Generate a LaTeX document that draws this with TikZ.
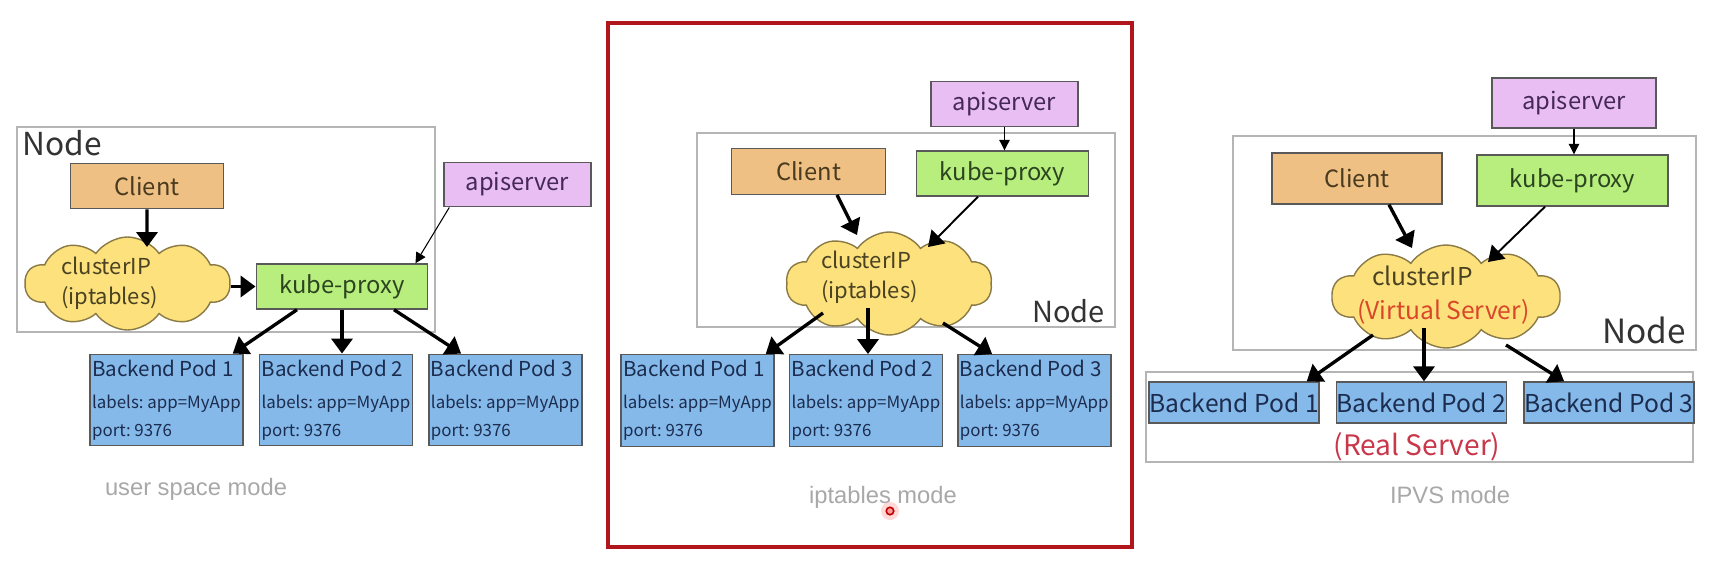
\documentclass[tikz,border=0pt]{standalone}
\usepackage{fontspec}
\setmainfont{Noto Sans CJK KR}
\newfontfamily\capfont{Liberation Sans}
\usetikzlibrary{positioning, shapes.symbols, arrows.meta, calc}

\definecolor{clientfill}{HTML}{EFC083}
\definecolor{clienttext}{HTML}{4A3A1F}
\definecolor{proxyfill}{HTML}{B7EE7D}
\definecolor{proxytext}{HTML}{2C4520}
\definecolor{apifill}{HTML}{E9BEF3}
\definecolor{apitext}{HTML}{45285A}
\definecolor{podfill}{HTML}{84B9EA}
\definecolor{podtext}{HTML}{1C2C4E}
\definecolor{cloudfill}{HTML}{FCE17C}
\definecolor{cloudline}{HTML}{8A7A45}
\definecolor{cloudtext}{HTML}{4A4222}
\definecolor{vsred}{HTML}{D9462A}
\definecolor{rsred}{HTML}{C9374A}
\definecolor{frameline}{HTML}{B5B5B5}
\definecolor{redframe}{HTML}{B0161C}
\definecolor{capgray}{HTML}{A8A8A8}

\newcommand{\podtitle}{\fontsize{11.7}{15}\selectfont}
\newcommand{\podsmall}{\fontsize{9.6}{13.5}\selectfont}
\newcommand{\podtext}[1]{\podtitle Backend Pod #1\\[2pt]\podsmall labels: app=MyApp\\\podsmall port: 9376}

\tikzset{
    box/.style={
        draw=black!65,
        rectangle,
        line width=0.8pt,
        inner sep=0pt,
        font=\fontsize{13.5}{16}\selectfont,
    },
    client/.style={box, fill=clientfill, text=clienttext, minimum width=30.7mm, minimum height=9.1mm},
    proxy/.style={box, fill=proxyfill, text=proxytext, minimum width=34.3mm, minimum height=9mm},
    api/.style={box, fill=apifill, text=apitext, minimum width=29.4mm, minimum height=8.9mm},
    pod/.style={box, fill=podfill, text=podtext, minimum width=30.6mm, minimum height=18.3mm,
        align=left, inner xsep=0.4mm},
    rpod/.style={box, fill=podfill, text=podtext, minimum width=34mm, minimum height=8.2mm,
        font=\fontsize{14}{17}\selectfont},
    cloudshape/.style={
        cloud, cloud puffs=10, cloud puff arc=110, cloud ignores aspect,
        draw=cloudline, fill=cloudfill, line width=0.8pt, inner sep=0pt,
    },
    cloudlabel/.style={text=cloudtext, align=left, inner sep=0pt, font=\fontsize{12.5}{17}\selectfont},
    nodelabel/.style={text=black!80, inner sep=0pt, font=\fontsize{18}{20}\selectfont},
    caption/.style={text=capgray, inner sep=0pt, font=\capfont\fontsize{13.5}{16}\selectfont},
    frame/.style={draw=frameline, line width=0.9pt},
    arr/.style={-{Triangle[length=8.5pt, width=12pt]}, line width=1.9pt},
    midarr/.style={-{Triangle[length=8.5pt, width=11pt]}, line width=1.1pt},
    thinarr/.style={-{Triangle[length=6pt, width=6pt]}, line width=0.6pt},
}

\begin{document}
\frenchspacing
\begin{tikzpicture}[x=0.2mm, y=-0.2mm, node distance=3mm]
   \fill[white] (0,0) rectangle (1719,582);
   \useasboundingbox (0,0) rectangle (1719,582);

   % user space mode
   \draw[frame] (17,127) rectangle (435,332);
   \node[nodelabel, anchor=base west] (nodeL) at (22,155) {Node};
   \node[client] (client1) at (147,186) {Client};
   \node[cloudshape, minimum width=41mm, minimum height=18.6mm] (cloud1) at (127.5,283.5) {};
   \node[cloudlabel, anchor=west] (ctext1) at (61,283) {clusterIP\\(iptables)};
   \node[proxy] (kp1) at (342,286.5) {kube-proxy};
   \node[api] (api1) at (517.5,184.5) {apiserver};
   \node[pod] (pod1L) at (166.5,400) {\podtext{1}};
   \node[pod, right=of pod1L] (pod2L) {\podtext{2}};
   \node[pod, right=of pod2L] (pod3L) {\podtext{3}};
   \node[caption] (capL) at (196,489) {user space mode};
   \draw[arr] (client1) -- ($(cloud1.center)+(19.5,-36.5)$);
   \draw[arr] (cloud1.east |- kp1.west) -- (kp1.west);
   \draw[thinarr] ($(api1.south west)+(6,0)$) -- ($(kp1.north east)+(-13,0)$);
   \draw[arr] ($(kp1.south)+(-45,0)$) -- ($(pod1L.north east)+(-11,0)$);
   \draw[arr] (kp1.south) -- (kp1.south |- pod2L.north);
   \draw[arr] ($(kp1.south)+(52,0)$) -- ($(pod3L.north west)+(33,0)$);

   % iptables mode
   \draw[redframe, line width=2.3pt] (608,23) rectangle (1132,547);
   \draw[frame] (697,133) rectangle (1115,327);
   \node[nodelabel, font=\fontsize{16.5}{19}\selectfont, anchor=base east] (nodeM) at (1105,322) {Node};
   \node[api] (api2) at (1004.5,104) {apiserver};
   \node[client] (client2) at (808.5,171.5) {Client};
   \node[proxy] (kp2) at (1002.5,173.5) {kube-proxy};
   \node[cloudshape, minimum width=41.2mm, minimum height=20.6mm] (cloud2) at (889,283.5) {};
   \node[cloudlabel, anchor=west] (ctext2) at (821,277.5) {clusterIP\\(iptables)};
   \node[pod] (pod1M) at (697.5,400.5) {\podtext{1}};
   \node[pod, right=2.8mm of pod1M] (pod2M) {\podtext{2}};
   \node[pod, right=2.8mm of pod2M] (pod3M) {\podtext{3}};
   \node[caption] (capM) at (883,497) {iptables mode};
   \draw[thinarr] (api2.south) -- (api2.south |- kp2.north);
   \draw[arr] ($(client2.south)+(28.5,0)$) -- ($(cloud2.center)+(-32,-48.5)$);
   \draw[midarr] ($(kp2.south)+(-24.5,0)$) -- ($(cloud2.center)+(39,-36.5)$);
   \draw[arr] ($(cloud2.center)+(-66,29.5)$) -- ($(pod1M.north east)+(-9,0)$);
   \draw[arr] ($(cloud2.center)+(-21,24.5)$) coordinate (m2) -- (m2 |- pod2M.north);
   \draw[arr] ($(cloud2.center)+(54,39.5)$) -- ($(pod3M.north west)+(35,0)$);
   \coordinate (pointer) at (890,511);
   \fill[red!25, opacity=0.6] (pointer) circle (1.8mm);
   \draw[red!75!black, line width=0.9pt, fill=red!40] (pointer) circle (0.75mm);

   % IPVS mode
   \draw[frame] (1233,136) rectangle (1696,350);
   \draw[frame] (1146,372) rectangle (1693,462);
   \node[nodelabel, font=\fontsize{19}{22}\selectfont, anchor=base east] (nodeR) at (1686,343) {Node};
   \node[api, minimum width=32.8mm, minimum height=10mm] (api3) at (1574,103) {apiserver};
   \node[client, minimum width=34mm, minimum height=10.2mm] (client3) at (1357,178.5) {Client};
   \node[proxy, minimum width=38.2mm, minimum height=10.2mm] (kp3) at (1572.5,180.5) {kube-proxy};
   \node[cloudshape, minimum width=45.6mm, minimum height=20.6mm] (cloud3) at (1446,296.5) {};
   \node[cloudlabel, font=\fontsize{14}{19.5}\selectfont, anchor=west] (ctext3) at (1357,295)
      {\hspace{8.5pt}clusterIP\\\textcolor{vsred}{(Virtual Server)}};
   \node[rpod] (pod1R) at (1234,402.5) {Backend Pod 1};
   \node[rpod, right=3.2mm of pod1R] (pod2R) {Backend Pod 2};
   \node[rpod, right=3.2mm of pod2R] (pod3R) {Backend Pod 3};
   \node[text=rsred, inner sep=0pt, font=\fontsize{16}{19}\selectfont] (rstext) at (1417,447) {(Real Server)};
   \node[caption] (capR) at (1450,495) {IPVS mode};
   \draw[thinarr] (api3.south) -- (api3.south |- kp3.north);
   \draw[arr] ($(client3.south)+(32,0)$) -- ($(cloud3.center)+(-34,-48.5)$);
   \draw[midarr] ($(kp3.south)+(-27.5,0)$) -- ($(cloud3.center)+(42,-34.5)$);
   \draw[arr] ($(cloud3.center)+(-73,38.5)$) -- ($(pod1R.north east)+(-13,0)$);
   \draw[arr] ($(cloud3.center)+(-22,31.5)$) coordinate (r2) -- (r2 |- pod2R.north);
   \draw[arr] ($(cloud3.center)+(60,48.5)$) -- ($(pod3R.north west)+(41,0)$);
\end{tikzpicture}
\end{document}
